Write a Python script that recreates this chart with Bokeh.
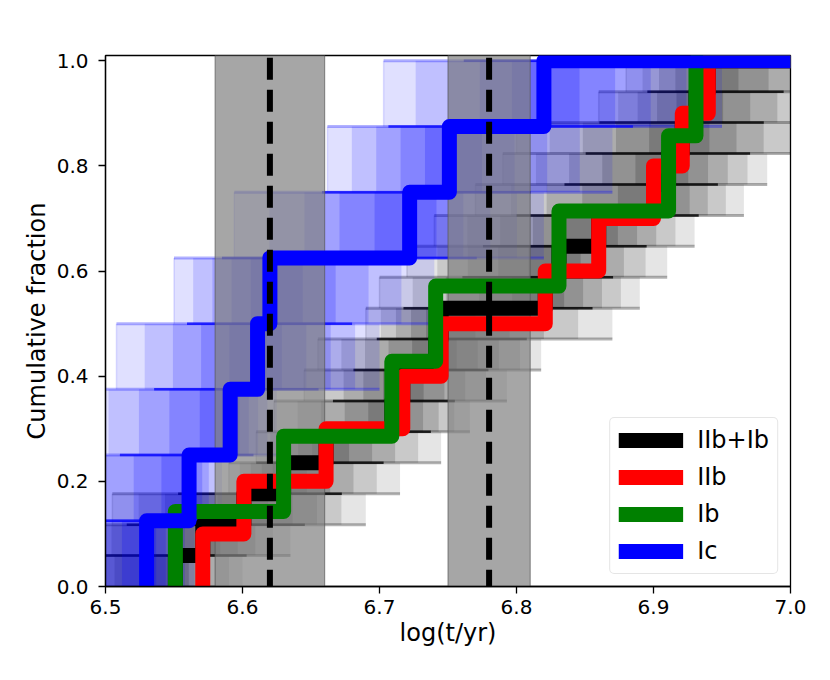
from bokeh.plotting import figure
from bokeh.models import (Range1d, FixedTicker, PrintfTickFormatter, Label,
                          Legend, LegendItem)
from bokeh.embed import file_html
from bokeh.resources import INLINE

# ---------------- data ----------------
x_ticks = [6.5, 6.6, 6.7, 6.8, 6.9, 7.0]
y_ticks = [0.0, 0.2, 0.4, 0.6, 0.8, 1.0]

# best-estimate ages (log t/yr) of each SN, per type
ic_ages = [6.530, 6.561, 6.591, 6.611, 6.620, 6.722, 6.751, 6.820]
iib_ages = [6.571, 6.601, 6.661, 6.717, 6.745, 6.821, 6.860, 6.900, 6.921, 6.940]
ib_ages = [6.551, 6.630, 6.709, 6.741, 6.831, 6.911, 6.931]
iib_ib_ages = sorted(iib_ages + ib_ages)

# spread (min / max) of the k-th ordered age over the Monte-Carlo draws
ic_lo = [6.440, 6.460, 6.480, 6.508, 6.550, 6.594, 6.662, 6.703]
ic_hi = [6.565, 6.585, 6.625, 6.700, 6.740, 6.820, 6.870, 6.950]
iib_ib_lo = [6.440, 6.460, 6.505, 6.590, 6.610, 6.623, 6.645, 6.655, 6.690,
             6.700, 6.720, 6.740, 6.770, 6.790, 6.800, 6.860, 6.880]
iib_ib_hi = [6.600, 6.635, 6.690, 6.715, 6.745, 6.766, 6.793, 6.818, 6.870,
             6.890, 6.910, 6.930, 6.966, 6.983, 7.020, 7.030, 7.050]

# cluster ages and their uncertainty ranges
cluster_names = ["Ic", "IIb+Ib"]
cluster_best = [6.62, 6.78]
cluster_lo = [6.58, 6.75]
cluster_hi = [6.66, 6.81]

legend_labels = ["IIb+Ib", "IIb", "Ib", "Ic"]
colors = ["black", "red", "green", "blue"]

X_MIN, X_MAX = 6.5, 7.0
Y_MIN, Y_MAX = 0.0, 1.01
FONT = "DejaVu Sans"


def step_xy(ages, x_end=7.2):
    n = len(ages)
    xs, ys = [ages[0]], [-0.05]
    for i, a in enumerate(ages):
        lvl = (i + 1) / n
        nxt = ages[i + 1] if i + 1 < n else x_end
        xs += [a, nxt]
        ys += [lvl, lvl]
    return xs, ys


def cloud(p, ages, lo, hi, color, alphas, a_lo, a_li):
    n = len(ages)
    bottoms = [i / n for i in range(n)]
    tops = [(i + 1) / n for i in range(n)]
    # nested layers give a density that peaks near the best age
    fracs = [1.0, 0.8, 0.6, 0.4, 0.2]
    for f, a in zip(fracs, alphas):
        left = [g - f * (g - l) for l, g in zip(lo, ages)]
        right = [g + f * (h - g) for g, h in zip(ages, hi)]
        p.quad(left=left, right=right, bottom=bottoms, top=tops,
               fill_color=color, fill_alpha=a, line_color=None)
    # faint edge of the earliest realisation of each step
    p.segment(x0=lo, x1=lo, y0=bottoms, y1=tops,
              line_color=color, line_alpha=0.12, line_width=1.5)
    mid_l = [(l + g) / 2 for l, g in zip(lo, ages)]
    mid_r = [(g + h) / 2 for g, h in zip(ages, hi)]
    hi_next = hi[1:] + [7.2]
    core_next = mid_r[1:] + [7.2]
    p.segment(x0=lo, x1=hi_next, y0=tops, y1=tops,
              line_color=color, line_alpha=a_lo, line_width=3)
    p.segment(x0=mid_l, x1=core_next, y0=tops, y1=tops,
              line_color=color, line_alpha=a_li, line_width=2.5)


p = figure(width=822, height=672,
           x_range=Range1d(X_MIN, X_MAX), y_range=Range1d(Y_MIN, Y_MAX),
           output_backend="svg", toolbar_location=None,
           min_border_left=105, min_border_right=32,
           min_border_top=55, min_border_bottom=86)
p.grid.visible = False
p.background_fill_color = "white"
p.border_fill_color = "white"
p.outline_line_color = "black"
p.outline_line_width = 1.3

# Monte-Carlo clouds
cloud(p, iib_ib_ages, iib_ib_lo, iib_ib_hi, "black",
      [0.1, 0.12, 0.14, 0.15, 0.16], 0.3, 0.8)
cloud(p, ic_ages, ic_lo, ic_hi, "blue",
      [0.12, 0.14, 0.16, 0.18, 0.2], 0.3, 0.75)

# cluster age uncertainty bands
p.quad(left=cluster_lo, right=cluster_hi, bottom=-0.1, top=1.2,
       fill_color="gray", fill_alpha=0.7, line_color="#555555",
       line_alpha=0.7, line_width=1)

# thick cumulative distributions
renderers = []
for ages, col in zip([iib_ib_ages, iib_ages, ib_ages, ic_ages], colors):
    xs, ys = step_xy(ages)
    r = p.line(xs, ys, line_color=col, line_width=15, line_join="round")
    renderers.append(r)

# best cluster ages
p.segment(x0=cluster_best, x1=cluster_best, y0=-0.01, y1=1.02,
          line_color="black", line_width=6, line_dash="22 10")

for name, xb in zip(cluster_names, cluster_best):
    p.add_layout(Label(x=xb, y=Y_MAX, y_offset=11, text=name,
                       text_align="center", text_baseline="alphabetic",
                       text_font=FONT, text_font_size="26px",
                       text_color="black"))

# axes
for ax in (p.xaxis[0], p.yaxis[0]):
    ax.major_label_text_font = FONT
    ax.major_label_text_font_size = "20px"
    ax.axis_label_text_font = FONT
    ax.axis_label_text_font_size = "24px"
    ax.axis_label_text_font_style = "normal"
    ax.major_tick_in = 0
    ax.major_tick_out = 7
    ax.major_tick_line_width = 1.3
    ax.minor_tick_line_color = None
    ax.axis_line_width = 1.3
    ax.major_label_text_color = "black"
    ax.axis_label_text_color = "black"
    ax.formatter = PrintfTickFormatter(format="%.1f")

p.xaxis.ticker = FixedTicker(ticks=x_ticks)
p.yaxis.ticker = FixedTicker(ticks=y_ticks)
p.xaxis.axis_label = "log(t/yr)"
p.yaxis.axis_label = "Cumulative fraction"
p.xaxis.major_label_standoff = 6
p.yaxis.major_label_standoff = 10
p.xaxis.axis_label_standoff = 2
p.yaxis.axis_label_standoff = 3

legend = Legend(items=[LegendItem(label=lab, renderers=[r])
                       for lab, r in zip(legend_labels, renderers)],
                location="bottom_right")
legend.label_text_font = FONT
legend.label_text_font_size = "24px"
legend.label_text_color = "black"
legend.glyph_width = 65
legend.glyph_height = 28
legend.label_height = 28
legend.spacing = 9
legend.padding = 8
legend.margin = 12
legend.label_standoff = 14
legend.border_line_color = "#cccccc"
legend.border_line_width = 1
legend.background_fill_color = "white"
legend.background_fill_alpha = 0.8
if "border_radius" in Legend.properties():
    legend.border_radius = 5
p.add_layout(legend)

open("out.html", "w").write(file_html(p, INLINE))
